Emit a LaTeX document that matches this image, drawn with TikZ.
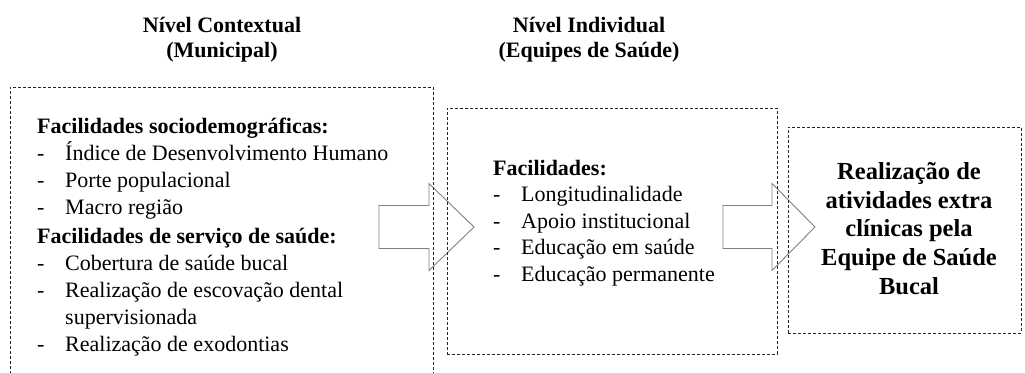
\documentclass[tikz,border=0pt]{standalone}
\usepackage{fontspec}
\setmainfont{Liberation Serif}
\begin{document}
\begin{tikzpicture}[x=1pt,y=-1pt,
  dbox/.style={draw=black!85, line width=0.8pt, dash pattern=on 3pt off 2pt, anchor=north west, inner sep=0pt, outer sep=0pt},
  txt/.style={anchor=base west, inner sep=0pt, font=\fontsize{22}{26}\selectfont},
  hd/.style={anchor=base west, inner sep=0pt, font=\bfseries\fontsize{22}{26}\selectfont},
  ttl/.style={anchor=base, inner sep=0pt, font=\bfseries\fontsize{22}{26}\selectfont},
  res/.style={anchor=base, inner sep=0pt, font=\bfseries\fontsize{24.5}{29}\selectfont},
  blockarrow/.style={draw=black!50, line width=0.9pt, fill=white, line join=miter}]
\useasboundingbox (0,0) rectangle (1025,372);
\clip (0,0) rectangle (1025,372);
% titles
\node[ttl] (t1a) at (222,32) {Nível Contextual};
\node[ttl] (t1b) at (222,57) {(Municipal)};
\node[ttl] (t2a) at (589,32) {Nível Individual};
\node[ttl] (t2b) at (589,57) {(Equipes de Saúde)};
% block arrows (drawn first, box borders show over them)
\coordinate (a1) at (379,227);
\draw[blockarrow] (a1) ++(0,-21.5) -- ++(50,0) -- ++(0,-22) -- ++(45,43.5) -- ++(-45,43.5) -- ++(0,-22) -- ++(-50,0) -- cycle;
\coordinate (a2) at (723,227);
\draw[blockarrow] (a2) ++(0,-21.5) -- ++(49,0) -- ++(0,-22) -- ++(43,43.5) -- ++(-43,43.5) -- ++(0,-22) -- ++(-49,0) -- cycle;
% boxes
\node[dbox, minimum width=423, minimum height=300] (b1) at (10,87) {};
\node[dbox, minimum width=330, minimum height=246] (b2) at (447,108) {};
\node[dbox, minimum width=233, minimum height=206] (b3) at (788,127) {};
% left box text
\node[hd] (l1) at (37,133) {Facilidades sociodemográficas:};
\node[txt] (l2d) at (37,160) {-};  \node[txt] (l2) at (65,160) {Índice de Desenvolvimento Humano};
\node[txt] (l3d) at (37,187) {-};  \node[txt] (l3) at (65,187) {Porte populacional};
\node[txt] (l4d) at (37,214) {-};  \node[txt] (l4) at (65,214) {Macro região};
\node[hd] (l5) at (37,243) {Facilidades de serviço de saúde:};
\node[txt] (l6d) at (37,270) {-};  \node[txt] (l6) at (65,270) {Cobertura de saúde bucal};
\node[txt] (l7d) at (37,297) {-};  \node[txt] (l7) at (65,297) {Realização de escovação dental};
\node[txt] (l8) at (65,324) {supervisionada};
\node[txt] (l9d) at (37,351) {-};  \node[txt] (l9) at (65,351) {Realização de exodontias};
% middle box text
\node[hd] (m1) at (493,175) {Facilidades:};
\node[txt] (m2d) at (493,201.5) {-};  \node[txt] (m2) at (521,201.5) {Longitudinalidade};
\node[txt] (m3d) at (493,228) {-};    \node[txt] (m3) at (521,228) {Apoio institucional};
\node[txt] (m4d) at (493,254.5) {-};  \node[txt] (m4) at (521,254.5) {Educação em saúde};
\node[txt] (m5d) at (493,281) {-};    \node[txt] (m5) at (521,281) {Educação permanente};
% right box text
\node[res] (r1) at (909,179) {Realização de};
\node[res] (r2) at (909,208) {atividades extra};
\node[res] (r3) at (909,236.5) {clínicas pela};
\node[res] (r4) at (909,265) {Equipe de Saúde};
\node[res] (r5) at (909,294) {Bucal};
\end{tikzpicture}
\end{document}
